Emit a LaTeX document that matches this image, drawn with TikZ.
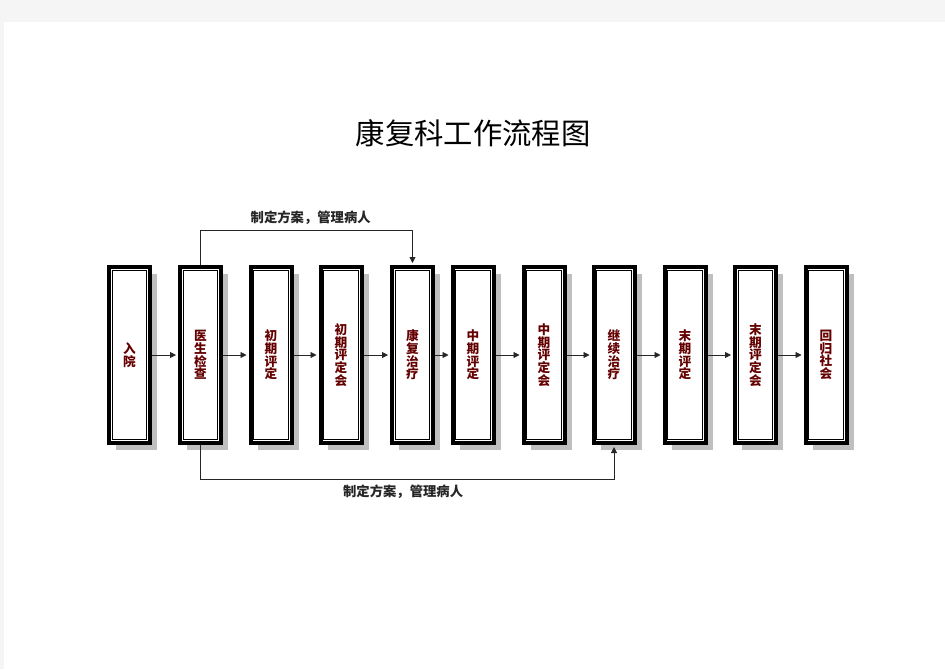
\documentclass[tikz,border=0pt]{standalone}
\usepackage{fontspec}
\setmainfont{Noto Sans CJK SC}
\usetikzlibrary{arrows.meta,shadows}
\definecolor{boxtext}{RGB}{100,0,0}

\begin{document}
\begin{tikzpicture}[x=0.75pt,y=-0.75pt,
        stage/.style={draw,line width=3pt,minimum width=30.75pt,minimum height=132pt,inner sep=0pt,fill=white,
            drop shadow={shadow xshift=5.25pt,shadow yshift=-5.25pt,fill=black!25,opacity=1},
            font=\fontsize{9.5}{9.5}\selectfont\bfseries,text=boxtext,align=center},
        flow/.style={line width=0.6pt,black!85,-{Triangle[length=4.5pt,width=4.5pt]},shorten >=1.5pt},
        note/.style={font=\fontsize{10}{10}\selectfont\bfseries,inner sep=1pt}]
    \useasboundingbox (0,0) rectangle (945,669);
    \fill[black!4] (0,0) rectangle (945,669);
    \fill[white] (4,22) rectangle (945,669);
    \node (title) at (473,133) {\fontsize{22}{22}\selectfont 康复科工作流程图};
    % stages
    \foreach \n/\x/\t in {ry/129.5/入\\院,ysjc/200.5/医\\生\\检\\查,cqpd/271/初\\期\\评\\定,
            cqpdh/341/初\\期\\评\\定\\会,kfzl/412.5/康\\复\\治\\疗,zqpd/473/中\\期\\评\\定,
            zqpdh/544/中\\期\\评\\定\\会,jxzl/614/继\\续\\治\\疗,mqpd/685/末\\期\\评\\定,
            mqpdh/755.5/末\\期\\评\\定\\会,hgsh/826/回\\归\\社\\会}{
        \node[stage] (\n) at (\x,355) {\t};
        \draw[line width=0.7pt,black] ([shift={(4pt,-4pt)}]\n.north west) rectangle ([shift={(-4pt,4pt)}]\n.south east);
    }
    \foreach \a/\b in {ry/ysjc,ysjc/cqpd,cqpd/cqpdh,cqpdh/kfzl,kfzl/zqpd,zqpd/zqpdh,zqpdh/jxzl,jxzl/mqpd,mqpd/mqpdh,mqpdh/hgsh}
        \draw[flow] (\a) -- (\b);
    % plan loops
    \draw[flow] (ysjc.north) -- ++(0,-35) -| node[note,pos=0.26,above=3pt] (plantop) {制定方案，管理病人} (kfzl.north);
    \draw[flow] (ysjc.south) -- ++(0,34) -| node[note,pos=0.245,below=3pt] (planbot) {制定方案，管理病人} (jxzl.south);
\end{tikzpicture}
\end{document}
